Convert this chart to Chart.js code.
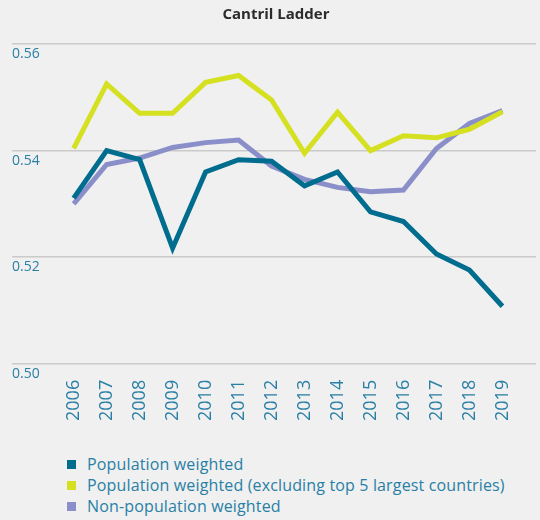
<!DOCTYPE html>
<html>
<head>
<meta charset="utf-8">
<script src="https://cdn.jsdelivr.net/npm/chart.js@4"></script>
<style>
  body { margin: 0; background: #eff0ef; font-family: "Open Sans", sans-serif; }
  #wrap { position: relative; width: 540px; height: 441px; }
  #legend { list-style: none; margin: 13px 0 0 0; padding: 0 0 0 67px; }
  #legend li { height: 21px; line-height: 21px; font-size: 16px; letter-spacing: 0.15px; color: #2a7fa6; white-space: nowrap; }
  #legend span { display: inline-block; width: 9px; height: 9px; margin-right: 11px; vertical-align: 1px; }
</style>
</head>
<body>
<div id="wrap"><canvas id="ladderChart"></canvas></div>
<ul id="legend"></ul>
<script>
// years on the x axis
const years = [2006, 2007, 2008, 2009, 2010, 2011, 2012, 2013, 2014, 2015, 2016, 2017, 2018, 2019];

const popWeighted = [0.5311, 0.5400, 0.5383, 0.5217, 0.5360, 0.5383, 0.5380, 0.5334, 0.5360, 0.5285, 0.5267, 0.5206, 0.5176, 0.5108];
const popWeightedExTop5 = [0.5404, 0.5525, 0.5470, 0.5470, 0.5528, 0.5541, 0.5495, 0.5395, 0.5472, 0.5400, 0.5428, 0.5424, 0.5440, 0.5473];
const nonPopWeighted = [0.5300, 0.5374, 0.5386, 0.5406, 0.5415, 0.5420, 0.5371, 0.5346, 0.5331, 0.5323, 0.5326, 0.5404, 0.5451, 0.5475];

const yTicks = [0.50, 0.52, 0.54, 0.56];

const labelColor = '#2a7fa6';

function toPoints(vals) {
  return vals.map((v, i) => ({ x: years[i], y: v }));
}

function lineSet(label, vals, color, order) {
  return {
    label: label,
    data: toPoints(vals),
    borderColor: color,
    backgroundColor: color,
    borderWidth: 5,
    pointRadius: 0,
    pointHoverRadius: 0,
    tension: 0,
    borderJoinStyle: 'miter',
    borderCapStyle: 'butt',
    order: order
  };
}

var ctx = document.getElementById('ladderChart').getContext('2d');

let ladderChart = new Chart(ctx, {
  type: 'line',
  data: {
    datasets: [
      lineSet('Population weighted', popWeighted, '#006d8f', 1),
      lineSet('Population weighted (excluding top 5 largest countries)', popWeightedExTop5, '#d5e021', 0),
      lineSet('Non-population weighted', nonPopWeighted, '#8a8fc9', 2)
    ]
  },
  options: {
    responsive: true,
    maintainAspectRatio: false,
    animation: false,
    layout: { padding: { left: 12, right: 0, top: 0, bottom: 4 } },
    plugins: {
      legend: { display: false },
      tooltip: { enabled: false },
      title: {
        display: true,
        text: 'Cantril Ladder',
        color: '#2b2b2b',
        font: { family: 'Open Sans', size: 15, weight: 'bold' },
        padding: { top: 6, bottom: 20 }
      }
    },
    scales: {
      x: {
        type: 'linear',
        min: 2004.13,
        max: 2020.02,
        afterBuildTicks: function (axis) {
          axis.ticks = years.map(y => ({ value: y }));
        },
        grid: { display: false, drawTicks: false },
        border: { display: false },
        ticks: {
          color: labelColor,
          font: { family: 'Open Sans', size: 18 },
          maxRotation: 90,
          minRotation: 90,
          padding: 16,
          autoSkip: false,
          callback: v => String(v)
        }
      },
      y: {
        min: 0.50,
        max: 0.56,
        afterBuildTicks: function (axis) {
          axis.ticks = yTicks.map(v => ({ value: v }));
        },
        grid: { color: '#c9cac9', lineWidth: 1.5, drawTicks: false },
        border: { display: false },
        ticks: {
          mirror: true,
          padding: 0,
          labelOffset: 10,
          color: labelColor,
          font: { family: 'Open Sans', size: 14 },
          callback: v => v.toFixed(2)
        }
      }
    }
  }
});

// html legend, one row per series
let legendBox = document.getElementById('legend');
ladderChart.data.datasets.forEach(function (ds) {
  let li = document.createElement('li');
  let sw = document.createElement('span');
  sw.style.background = ds.borderColor;
  li.appendChild(sw);
  li.appendChild(document.createTextNode(ds.label));
  legendBox.appendChild(li);
});
</script>
</body>
</html>
